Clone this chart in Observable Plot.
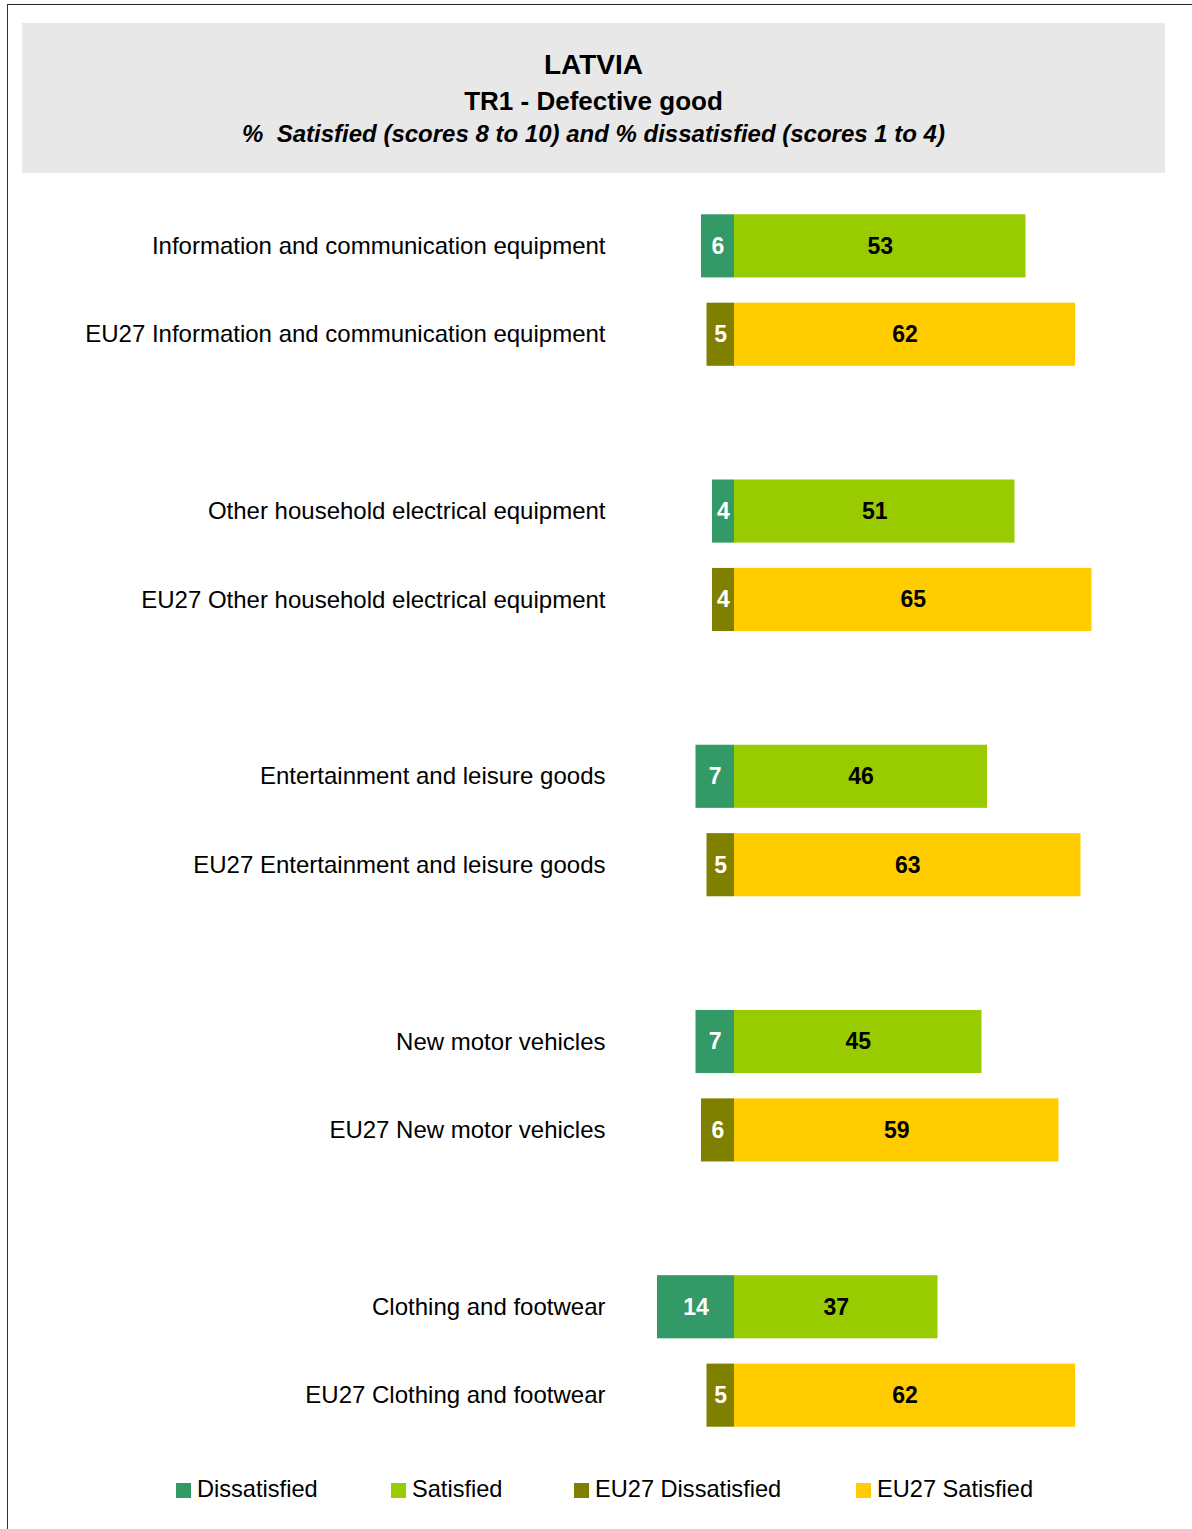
<!DOCTYPE html>
<html>
<head>
<meta charset="utf-8">
<script src="https://cdn.jsdelivr.net/npm/d3@7"></script>
<script src="https://cdn.jsdelivr.net/npm/@observablehq/plot@0.6"></script>
<style>
  html, body { margin: 0; padding: 0; background: #fff; }
  body { font-family: "Liberation Sans", Arial, sans-serif; color: #000; }
  #page { position: relative; width: 1192px; height: 1529px; overflow: hidden; }
  #frame { position: absolute; left: 7px; top: 4px; width: 1190px; height: 1530px;
           border-top: 1.5px solid #222; border-left: 1.5px solid #333; box-sizing: border-box; }
  #header { position: absolute; left: 22px; top: 23px; width: 1143px; height: 150px; background: #e8e8e8; }
  .t { position: absolute; left: 0; width: 100%; text-align: center; line-height: 1; white-space: nowrap; font-weight: bold; }
  #chart { position: absolute; left: 0; top: 189px; }
  .leg { position: absolute; top: 1478px; font-size: 23.6px; line-height: 1; white-space: nowrap; }
  .leg span.sw { position: absolute; left: 0; top: 5px; width: 15px; height: 15px; }
  .leg span.lb { position: absolute; left: 21px; top: 0; }
</style>
</head>
<body>
<div id="page">
  <div id="frame"></div>
  <div id="header">
    <div class="t" style="top:28px;font-size:28px;">LATVIA</div>
    <div class="t" style="top:65px;font-size:26px;">TR1 - Defective good</div>
    <div class="t" style="top:99px;font-size:24px;font-style:italic;">%&nbsp; Satisfied (scores 8 to 10) and % dissatisfied (scores 1 to 4)</div>
  </div>
  <div id="chart"></div>
  <div id="legend"></div>
</div>
<script>
// ---- data ----
const categories = [
  "Information and communication equipment",
  "Other household electrical equipment",
  "Entertainment and leisure goods",
  "New motor vehicles",
  "Clothing and footwear"
];
const dissatisfied     = [6, 4, 7, 7, 14];
const satisfied        = [53, 51, 46, 45, 37];
const eu27Dissatisfied = [5, 4, 5, 6, 5];
const eu27Satisfied    = [62, 65, 63, 59, 62];
const seriesNames  = ["Dissatisfied", "Satisfied", "EU27 Dissatisfied", "EU27 Satisfied"];
const seriesColors = ["#339966", "#99cc00", "#808000", "#ffcc00"];
const eu27Prefix = "EU27 ";

// ---- build rows ----
const rows = [];
const yDomain = [];
categories.forEach((c, i) => {
  rows.push({label: c, dis: dissatisfied[i], sat: satisfied[i], disKey: seriesNames[0], satKey: seriesNames[1]});
  rows.push({label: eu27Prefix + c, dis: eu27Dissatisfied[i], sat: eu27Satisfied[i], disKey: seriesNames[2], satKey: seriesNames[3]});
  yDomain.push(c, eu27Prefix + c);
  if (i < categories.length - 1) yDomain.push("__gap" + i);
});

const chart = Plot.plot({
  width: 1192,
  height: 1263,
  marginLeft: 624,
  marginRight: 18,
  marginTop: 0,
  marginBottom: 0,
  style: {fontFamily: '"Liberation Sans", Arial, sans-serif', fontSize: "24px", color: "#000", background: "transparent"},
  x: {domain: [-20, 80], axis: null},
  y: {domain: yDomain, padding: 0.286, round: false, axis: null},
  color: {domain: seriesNames, range: seriesColors},
  marks: [
    Plot.axisY({
      tickSize: 0, tickPadding: 19, label: null, fontSize: 24,
      tickFormat: d => d.startsWith("__gap") ? "" : d
    }),
    Plot.barX(rows, {x1: d => -d.dis, x2: 0, y: "label", fill: "disKey"}),
    Plot.barX(rows, {x1: 0, x2: "sat", y: "label", fill: "satKey"}),
    Plot.text(rows, {x: d => -d.dis / 2, y: "label", text: "dis", fill: "white", fontWeight: "bold", fontSize: 23}),
    Plot.text(rows, {x: d => d.sat / 2, y: "label", text: "sat", fill: "black", fontWeight: "bold", fontSize: 23})
  ]
});
document.getElementById("chart").appendChild(chart);

// ---- legend ----
const legendLeft = [176, 391, 574, 856];
const legend = document.getElementById("legend");
seriesNames.forEach((name, i) => {
  const item = document.createElement("div");
  item.className = "leg";
  item.style.left = legendLeft[i] + "px";
  const sw = document.createElement("span");
  sw.className = "sw";
  sw.style.background = seriesColors[i];
  const lb = document.createElement("span");
  lb.className = "lb";
  lb.textContent = name;
  item.appendChild(sw);
  item.appendChild(lb);
  legend.appendChild(item);
});
</script>
</body>
</html>
